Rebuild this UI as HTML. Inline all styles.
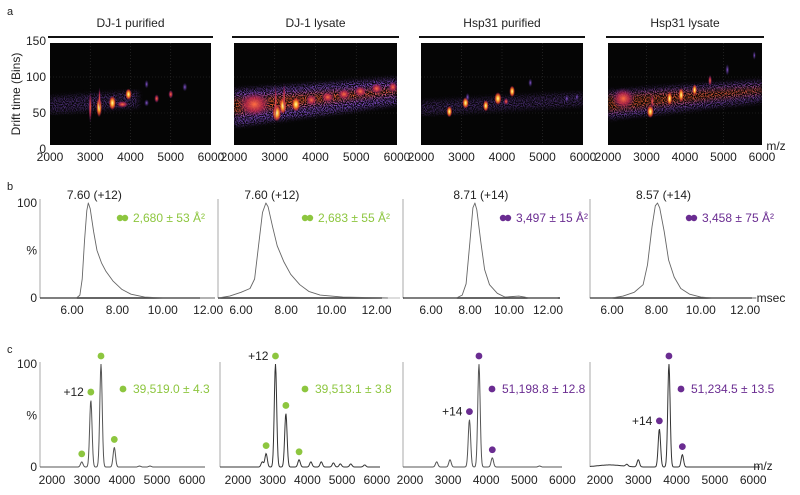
<!DOCTYPE html>
<html><head><meta charset="utf-8">
<style>
html,body{margin:0;padding:0;background:#fff;}
svg{display:block;font-family:"Liberation Sans",Arial,sans-serif;}
</style></head>
<body>
<svg id="fig" width="800" height="495" viewBox="0 0 800 495">
<defs>
<radialGradient id="gHot"><stop offset="0" stop-color="#ffffb0"/><stop offset="0.35" stop-color="#ffb030"/><stop offset="0.7" stop-color="#e0402a" stop-opacity="0.8"/><stop offset="1" stop-color="#901050" stop-opacity="0"/></radialGradient>
<radialGradient id="gMid"><stop offset="0" stop-color="#ff7040"/><stop offset="0.5" stop-color="#c02850" stop-opacity="0.8"/><stop offset="1" stop-color="#602080" stop-opacity="0"/></radialGradient>
<radialGradient id="gDim"><stop offset="0" stop-color="#8a5ad0"/><stop offset="1" stop-color="#4a2a90" stop-opacity="0"/></radialGradient>
<filter id="speck" x="-10%" y="-10%" width="120%" height="120%">
  <feGaussianBlur in="SourceGraphic" stdDeviation="2.5" result="b"/>
  <feTurbulence type="fractalNoise" baseFrequency="0.9" numOctaves="1" seed="3" result="n"/>
  <feColorMatrix in="n" type="matrix" values="0 0 0 0 0  0 0 0 0 0  0 0 0 0 0  0 0 0 4 -1.6" result="m"/>
  <feComposite in="b" in2="m" operator="in"/>
</filter>
</defs>
<g id="root"></g>
</svg>
<script>
// ---------- data ----------
const heatTitles = ["DJ-1 purified","DJ-1  lysate","Hsp31 purified","Hsp31 lysate"];
const mzTicks = [2000,3000,4000,5000,6000];
const driftTicks = [0,50,100,150];
// band: [mzStart, lowStart, highStart, mzEnd, lowEnd, highEnd, strength]
const heatBands = [
  [2000,50,72,4200,58,80,0.55],
  [2000,32,82,6000,62,98,1.0],
  [2000,48,66,6000,60,78,0.5],
  [2000,42,80,6000,66,95,0.85]
];
// blobs: [mz, drift, level(2 hot,1 mid,0 dim), rx(mz units), ry(drift units)]
const heatBlobs = [
  [[3000,58,1,40,22],[3220,58,2,70,14],[3230,70,1,30,16],[3550,64,2,90,10],[3800,62,1,150,5],[3950,76,2,80,8],[4650,70,1,60,6],[5000,76,1,60,6],[5350,86,0,60,6],[4400,90,0,50,6],[4400,64,0,60,5]],
  [[2500,62,1,400,18],[3050,50,2,110,12],[3020,65,1,30,25],[3200,60,2,90,12],[3230,72,1,30,20],[3520,62,2,110,10],[3900,68,1,140,8],[4300,72,1,160,8],[4700,76,1,160,8],[5100,80,1,160,8],[5500,84,1,150,8],[5900,86,1,120,8]],
  [[2700,52,2,70,8],[3100,64,2,80,8],[3150,72,0,50,6],[3600,60,2,70,8],[3900,70,2,90,9],[4100,66,1,60,5],[4250,80,2,70,8],[4700,92,0,50,6],[5600,70,0,50,5],[5850,72,0,40,5]],
  [[2400,70,1,300,15],[3100,52,2,90,9],[3150,66,1,40,10],[3600,70,2,70,10],[3900,75,2,70,10],[4250,82,2,60,8],[4650,95,1,50,8],[5100,110,0,50,8],[5800,130,0,40,6]]
];
const driftLabels = ["7.60 (+12)","7.60 (+12)","8.71 (+14)","8.57 (+14)"];
const ccsLabels = ["2,680 ± 53 Å²","2,683 ± 55 Å²","3,497 ± 15 Å²","3,458 ± 75 Å²"];
const timeTicks = [6,8,10,12];
const driftT = [
  [4.6,6.2,6.35,6.45,6.55,6.65,6.72,6.8,6.95,7.1,7.3,7.5,7.8,8.2,8.6,9.2,10,12.3],
  [5.0,5.5,6.0,6.4,6.6,6.8,6.95,7.1,7.2,7.4,7.6,7.9,8.2,8.6,9.0,9.5,10.5,12.5],
  [4.6,7.3,7.6,7.8,8.0,8.15,8.25,8.35,8.55,8.75,9.0,9.4,9.8,10.5,10.8,11,12.5],
  [5.0,6.0,6.5,7.0,7.4,7.6,7.8,7.95,8.05,8.15,8.35,8.55,8.8,9.1,9.5,10,10.5,12.5]
];
const driftI = [
  [0,0,3,20,60,92,100,94,70,50,37,28,18,9,4,1,0,0],
  [0,2,6,10,20,60,90,100,96,75,55,38,25,14,7,3,1,0],
  [0,0,3,15,60,95,100,93,60,30,14,5,1,2,1,0,0],
  [0,0,2,6,14,35,75,97,100,95,70,40,22,10,4,1,0,0]
];
const massLabels = ["39,519.0 ± 4.3","39,513.1 ± 3.8","51,198.8 ± 12.8","51,234.5 ± 13.5"];
const chargeLabels = ["+12","+12","+14","+14"];
const peakMz = [
  [2850,3110,3400,3780,4500,4800],
  [2700,2810,3080,3380,3760,4100,4400,4750,4950,5250,5650],
  [2700,3050,3560,3810,4160,5400],
  [2250,2700,3000,3550,3800,4150]
];
const peakH = [
  [5,65,100,19,1,1],
  [5,13,100,52,7,5,5,4,3,3,2],
  [5,7,46,100,9,1],
  [2,2,7,37,100,12]
];
const dotted = [[0,1,2,3],[1,2,3,4],[2,3,4],[3,4,5]];
const chargeIdx = [1,2,2,3];
// ---------- layout ----------
const heatX = [[50,211],[234,397],[421,583],[608,762]];
const heatY = [43,145];
const driftAxX = [[40,200,72,22.7],[218,382,241,22.6],[403,560,431,19.5],[590,752,612,22.2]];
const driftY = [298,203];
const massAx = [[40,205,52,0.035],[220,380,238,0.0347],[403,562,410,0.0381],[590,760,600,0.0383]];
const massY = [467,364];
const colors = ["#8dc63f","#8dc63f","#6a2c91","#6a2c91"];
const FS = 12;

const NS="http://www.w3.org/2000/svg";
const root=document.getElementById('root');
function mk(tag,attrs,parent){const e=document.createElementNS(NS,tag);for(const k in attrs)e.setAttribute(k,attrs[k]);(parent||root).appendChild(e);return e;}
function txt(s,x,y,size,anchor,fill,parent){const t=mk('text',{x:x,y:y,'font-size':size,'text-anchor':anchor||'middle',fill:fill||'#222'},parent);t.textContent=s;return t;}

let L;
L=txt('a',7,15,11,'start');
L=txt('b',7,190,11,'start');
L=txt('c',7,353,11,'start');

// ---------- panel a heatmaps ----------
heatTitles.forEach((title,i)=>{
  const [x0,x1]=heatX[i];const [y0,y1]=heatY;
  const g=mk('g',{});
  
  
  const mx=m=>x0+(m-2000)/4000*(x1-x0);
  const dy=d=>149-d*0.72;
  const t=txt(title,(x0+x1)/2,27,FS,'middle','#222',g);
  
  
  mk('line',{x1:x0-2,x2:x1+2,y1:37,y2:37,stroke:'#111','stroke-width':2},g);
  const cid='clip'+i;
  const cp=mk('clipPath',{id:cid},g);mk('rect',{x:x0,y:y0,width:x1-x0,height:y1-y0},cp);
  const inner=mk('g',{'clip-path':'url(#'+cid+')'},g);
  mk('rect',{x:x0,y:y0,width:x1-x0,height:y1-y0,fill:'#050505'},inner);
  mzTicks.slice(1,4).forEach(m=>mk('line',{x1:mx(m),x2:mx(m),y1:y0,y2:y1,stroke:'#333','stroke-width':0.6,'stroke-dasharray':'1,2'},inner));
  [50,100].forEach(d=>mk('line',{x1:x0,x2:x1,y1:dy(d),y2:dy(d),stroke:'#333','stroke-width':0.6,'stroke-dasharray':'1,2'},inner));
  const b=heatBands[i];
  const sp=mk('g',{filter:'url(#speck)',opacity:b[6]},inner);
  const band=mk('polygon',{points:[mx(b[0])+','+dy(b[1]),mx(b[3])+','+dy(b[4]),mx(b[3])+','+dy(b[5]),mx(b[0])+','+dy(b[2])].join(' '),fill:'#7a4ac0'},sp);
  
  
  if(b[6]>0.7){mk('polygon',{points:[mx(b[0])+','+dy((b[1]+b[2])/2-10),mx(b[3])+','+dy((b[4]+b[5])/2-4),mx(b[3])+','+dy((b[4]+b[5])/2+6),mx(b[0])+','+dy((b[1]+b[2])/2+14)].join(' '),fill:'#e05a30'},sp);}
  heatBlobs[i].forEach(bl=>{
    const [m,d,lv,rx,ry]=bl;
    const e=mk('ellipse',{cx:mx(m),cy:dy(d),rx:rx/4000*(x1-x0),ry:ry*0.72,fill:lv==2?'url(#gHot)':lv==1?'url(#gMid)':'url(#gDim)'},inner);
    
    
  });
  mzTicks.forEach(m=>{const tt=txt(m,mx(m),161,FS,'middle','#222',g);
    });
  if(i==0){
    driftTicks.forEach(d=>{const tt=txt(d,46,dy(d)+4,FS,'end','#222',g);
      });
    const yt=txt('Drift time (Bins)',0,0,FS,'middle','#222',g);
    yt.setAttribute('transform','translate(20,94) rotate(-90)');
    
  }
});
L=txt('m/z',776,150,FS,'middle');

// ---------- panel b drift profiles ----------
driftLabels.forEach((lab,i)=>{
  const [ax0,ax1,t6,sc]=driftAxX[i];const [by,ty]=driftY;
  const g=mk('g',{});
  
  
  const tx=t=>t6+(t-6)*sc; const iy=v=>by+(ty-by)*v/100;
  mk('line',{x1:ax0,x2:ax0,y1:199,y2:by,stroke:'#aaa','stroke-width':1},g);
  mk('line',{x1:ax0,x2:ax1,y1:by,y2:by,stroke:'#333','stroke-width':1.5},g);
  if(i==1) mk('line',{x1:ax1,x2:400,y1:by,y2:by,stroke:'#bbb','stroke-width':1},g);
  const pts=driftT[i].map((t,k)=>tx(t).toFixed(1)+','+iy(driftI[i][k]).toFixed(1)).join(' ');
  const pl=mk('polyline',{points:pts,fill:'none',stroke:'#666','stroke-width':0.9,'stroke-linejoin':'round'},g);
  
  let mi=driftI[i].indexOf(100);
  const pk=txt(lab,tx(driftT[i][mi])+6,199,FS,'middle','#222',g);
  
  const dx=[120,305,503,689][i];
  mk('circle',{cx:dx,cy:218,r:3.2,fill:colors[i]},g);mk('circle',{cx:dx+5,cy:218,r:3.2,fill:colors[i]},g);
  const cl=txt(ccsLabels[i],dx+13,222,FS,'start',colors[i],g);
  
  timeTicks.forEach(t=>{const tt=txt(t.toFixed(2),tx(t),314,FS,'middle','#222',g);
    });
  if(i==0){
    [['100',iy(100)+4],['%',iy(50)+4],['0',iy(0)+4]].forEach(a=>{const tt=txt(a[0],37,a[1],FS,'end','#222',g);
      });
  }
});
L=txt('msec',771,302,FS,'middle');

// ---------- panel c mass spectra ----------
massLabels.forEach((lab,i)=>{
  const [ax0,ax1,m2,sc]=massAx[i];const [by,ty]=massY;
  const g=mk('g',{});
  
  
  const mx=m=>m2+(m-2000)*sc; const iy=v=>by+(ty-by)*v/100;
  mk('line',{x1:ax0,x2:ax0,y1:362,y2:by,stroke:'#aaa','stroke-width':1},g);
  let d='';
  for(let x=ax0;x<=ax1;x+=0.5){
    let v=0;
    peakMz[i].forEach((m,k)=>{const w=(i==3&&k==0)?12:1.2;const dd=(x-mx(m))/w;v+=peakH[i][k]*Math.exp(-dd*dd/2);});
    d+=(x==ax0?'M':'L')+x.toFixed(1)+','+iy(v).toFixed(1);
  }
  const p=mk('path',{d:d,fill:'none',stroke:i==1||i==3?'#333':'#555','stroke-width':1},g);
  
  dotted[i].forEach(k=>{const c=mk('circle',{cx:mx(peakMz[i][k]),cy:iy(peakH[i][k])-8,r:3.4,fill:colors[i]},g);
    });
  const ci=chargeIdx[i];
  const cl=txt(chargeLabels[i],mx(peakMz[i][ci])-7,iy(peakH[i][ci])-4,FS,'end','#222',g);
  
  const dx=[123,305,492,681][i];
  mk('circle',{cx:dx,cy:389,r:3.4,fill:colors[i]},g);
  const ml=txt(lab,dx+10,393,FS,'start',colors[i],g);
  
  mzTicks.forEach(m=>{const tt=txt(m,mx(m),484,FS,'middle','#222',g);
    });
  if(i==0){
    [['100',iy(100)+4],['%',iy(50)+4],['0',iy(0)+4]].forEach(a=>{const tt=txt(a[0],37,a[1],FS,'end','#222',g);
      });
  }
});
L=txt('m/z',763,470,FS,'middle');
</script>
</body></html>
